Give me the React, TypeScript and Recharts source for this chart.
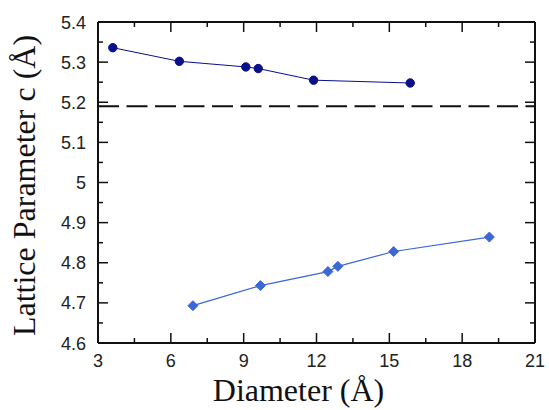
import React from 'react';
import { ComposedChart, Line, XAxis, YAxis, ReferenceLine, Label } from 'recharts';

// nanowire diameter (Å) vs lattice parameter c (Å)
const darkDiameter = [3.61, 6.35, 9.09, 9.6, 11.88, 15.86];
const darkC = [5.336, 5.302, 5.288, 5.284, 5.255, 5.248];
const lightDiameter = [6.91, 9.69, 12.47, 12.88, 15.18, 19.12];
const lightC = [4.693, 4.743, 4.778, 4.791, 4.828, 4.864];
const bulkC = 5.19;

const xMajorTicks = [3, 6, 9, 12, 15, 18, 21];
const xMinorTicks = [4.5, 7.5, 10.5, 13.5, 16.5, 19.5];
const yMajorTicks = [4.6, 4.7, 4.8, 4.9, 5, 5.1, 5.2, 5.3, 5.4];
const yMinorTicks = [4.65, 4.75, 4.85, 4.95, 5.05, 5.15, 5.25, 5.35];

const darkData = darkDiameter.map((d, i) => ({ d, c: darkC[i] }));
const lightData = lightDiameter.map((d, i) => ({ d, c: lightC[i] }));
const xTicks = [...xMajorTicks, ...xMinorTicks].sort((a, b) => a - b);
const yTicks = [...yMajorTicks, ...yMinorTicks].sort((a, b) => a - b);

const AXIS = '#111';
const DARK = '#0a0f8a';
const LIGHT = '#3b68d4';
const SANS = '"Liberation Sans", Arial, sans-serif';
const SERIF = '"Liberation Serif", "Times New Roman", serif';

const isMajor = (v: number, list: number[]) => list.some(t => Math.abs(t - v) < 1e-6);

function makeTick(side: 'bottom' | 'top' | 'left' | 'right') {
  return (props: any) => {
    const { x, y, payload } = props;
    const v = payload.value;
    const horizontal = side === 'bottom' || side === 'top';
    const major = isMajor(v, horizontal ? xMajorTicks : yMajorTicks);
    const len = major ? 10 : 5;
    let x2 = x;
    let y2 = y;
    if (side === 'bottom') y2 = y - len;
    if (side === 'top') y2 = y + len;
    if (side === 'left') x2 = x + len;
    if (side === 'right') x2 = x - len;
    return (
      <g>
        <line x1={x} y1={y} x2={x2} y2={y2} stroke={AXIS} strokeWidth={1.5} />
        {major && side === 'bottom' && (
          <text x={x} y={y + 24} textAnchor="middle" fontFamily={SANS} fontSize={18} fill="#222">
            {String(v)}
          </text>
        )}
        {major && side === 'left' && (
          <text x={x - 12} y={y + 6.5} textAnchor="end" fontFamily={SANS} fontSize={18} fill="#222">
            {String(v)}
          </text>
        )}
      </g>
    );
  };
}

const renderYTitle = (props: any) => {
  const { viewBox } = props;
  const cx = viewBox.x + 35;
  const cy = viewBox.y + viewBox.height / 2 + 3;
  return (
    <text
      x={cx}
      y={cy}
      transform={`rotate(-90 ${cx} ${cy})`}
      textAnchor="middle"
      fontFamily={SERIF}
      fontSize={32}
      fill="#111"
    >
      Lattice Parameter c (Å)
    </text>
  );
};

const renderXTitle = (props: any) => {
  const { viewBox } = props;
  return (
    <text
      x={viewBox.x + viewBox.width / 2 - 18}
      y={viewBox.y + 58}
      textAnchor="middle"
      fontFamily={SERIF}
      fontSize={32}
      fill="#111"
    >
      Diameter (Å)
    </text>
  );
};

const circleDot = (props: any) => {
  const { cx, cy, index } = props;
  return <circle key={`c${index}`} cx={cx} cy={cy} r={4.2} fill={DARK} stroke={DARK} />;
};

const diamondDot = (props: any) => {
  const { cx, cy, index } = props;
  const r = 5;
  return (
    <polygon
      key={`d${index}`}
      points={`${cx},${cy - r} ${cx + r},${cy} ${cx},${cy + r} ${cx - r},${cy}`}
      fill={LIGHT}
      stroke={LIGHT}
    />
  );
};

export default function App() {
  return (
    <div style={{ position: 'absolute', left: 0, top: 0, background: '#fff' }}>
      <ComposedChart width={549} height={410} margin={{ top: 0, right: 0, bottom: 0, left: 0 }}>
        <XAxis
          xAxisId="bottom"
          dataKey="d"
          type="number"
          domain={[3, 21]}
          allowDataOverflow
          ticks={xTicks}
          interval={0}
          height={67}
          tickSize={0}
          tickMargin={0}
          tickLine={false}
          tick={makeTick('bottom')}
          axisLine={{ stroke: AXIS, strokeWidth: 2 }}
        >
          <Label content={renderXTitle} />
        </XAxis>
        <XAxis
          xAxisId="top"
          orientation="top"
          dataKey="d"
          type="number"
          domain={[3, 21]}
          allowDataOverflow
          ticks={xTicks}
          interval={0}
          height={22}
          tickSize={0}
          tickMargin={0}
          tickLine={false}
          tick={makeTick('top')}
          axisLine={{ stroke: AXIS, strokeWidth: 2 }}
        />
        <YAxis
          yAxisId="left"
          type="number"
          domain={[4.6, 5.4]}
          allowDataOverflow
          ticks={yTicks}
          interval={0}
          width={98}
          tickSize={0}
          tickMargin={0}
          tickLine={false}
          tick={makeTick('left')}
          axisLine={{ stroke: AXIS, strokeWidth: 2 }}
        >
          <Label content={renderYTitle} />
        </YAxis>
        <YAxis
          yAxisId="right"
          orientation="right"
          type="number"
          domain={[4.6, 5.4]}
          allowDataOverflow
          ticks={yTicks}
          interval={0}
          width={14}
          tickSize={0}
          tickMargin={0}
          tickLine={false}
          tick={makeTick('right')}
          axisLine={{ stroke: AXIS, strokeWidth: 2 }}
        />
        <ReferenceLine
          xAxisId="bottom"
          yAxisId="left"
          y={bulkC}
          stroke="#111"
          strokeWidth={2}
          strokeDasharray="21 7.5"
        />
        <Line
          xAxisId="bottom"
          yAxisId="left"
          data={darkData}
          dataKey="c"
          type="linear"
          stroke={DARK}
          strokeWidth={1}
          dot={circleDot}
          activeDot={false}
          isAnimationActive={false}
        />
        <Line
          xAxisId="bottom"
          yAxisId="left"
          data={lightData}
          dataKey="c"
          type="linear"
          stroke={LIGHT}
          strokeWidth={1.2}
          dot={diamondDot}
          activeDot={false}
          isAnimationActive={false}
        />
      </ComposedChart>
    </div>
  );
}
